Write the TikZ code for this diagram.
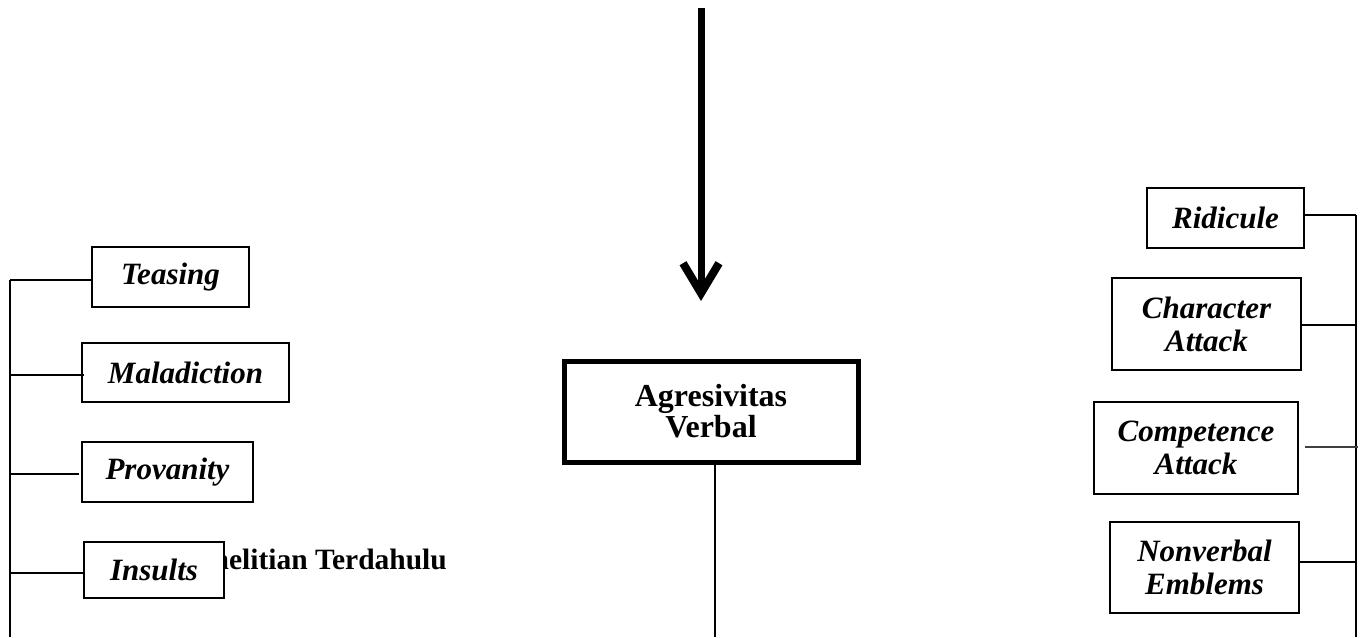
\documentclass[tikz,border=0pt]{standalone}
\usepackage{fontspec}
\setmainfont{Liberation Serif}
\usetikzlibrary{arrows.meta}
\tikzset{
  item/.style={draw=black, line width=1.3pt, fill=white, inner sep=0pt, align=center,
    font=\fontsize{31}{33}\selectfont\bfseries\itshape},
  conn/.style={draw=black, line width=2.2pt},
  trunk/.style={draw=black, line width=2.8pt},
  mainbox/.style={draw=black, line width=5pt, fill=white, inner sep=0pt, align=center,
    font=\fontsize{32}{31}\selectfont\bfseries},
  bigarrow/.style={draw=black, line width=7pt, -{Straight Barb[length=30pt, width=36pt, line width=8pt]}},
}
\begin{document}
\begin{tikzpicture}[x=1pt, y=-1pt]
\useasboundingbox (0,0) rectangle (1362,637);
% central
\node[mainbox, minimum width=294pt, minimum height=101pt] (cb) at (711,411.5) {Agresivitas\\Verbal};
\coordinate (atop) at (701,8);
\coordinate (atip) at (701,301);
\draw[bigarrow] (atop) -- (atip);
\coordinate (cbend) at (715,637);
\draw[line width=1.6pt] (cbend |- cb.south) -- (cbend);
% hidden text
\node[anchor=base east, inner sep=0pt, font=\fontsize{29.5}{32}\selectfont\bfseries] (pt) at (447,569) {Penelitian Terdahulu};
% left boxes
\node[item, minimum width=157pt, minimum height=60pt] (teas) at (170.5,277) {Teasing};
\node[item, minimum width=207pt, minimum height=59pt] (mal) at (185.5,372.5) {Maladiction};
\node[item, minimum width=171pt, minimum height=60pt] (prov) at (167.5,472) {Provanity};
\node[item, minimum width=140pt, minimum height=56pt] (ins) at (154,570) {Insults};
\coordinate (ltop) at (10,280);
\coordinate (lbot) at (10,637);
\draw[trunk] (ltop) -- (lbot);
\draw[conn] (ltop) -- (teas.west |- ltop);
\draw[conn] (10,375) -- ([xshift=3pt]mal.west |- 0,375);
\draw[conn] (10,474) -- ([xshift=-2pt]prov.west |- 0,474);
\draw[conn] (10,573) -- (ins.west |- 0,573);
% right boxes
\node[item, minimum width=157pt, minimum height=60pt] (rid) at (1225.5,218) {Ridicule};
\node[item, minimum width=189pt, minimum height=92pt] (cha) at (1206.5,324) {Character\\Attack};
\node[item, minimum width=204pt, minimum height=92pt] (com) at (1196,448) {Competence\\Attack};
\node[item, minimum width=189pt, minimum height=91pt] (non) at (1204.5,567.5) {Nonverbal\\Emblems};
\coordinate (rtop) at (1356,215);
\coordinate (rbot) at (1356,637);
\draw[trunk] (rtop) -- (rbot);
\draw[conn] ([xshift=-2pt]rid.east |- rtop) -- (rtop);
\draw[conn] (cha.east |- 0,325) -- (1356,325);
\draw[line width=1.6pt, draw=black!75] ([xshift=6pt]com.east |- 0,447) -- (1358,447);
\draw[conn] (non.east |- 0,562) -- (1356,562);
\end{tikzpicture}
\end{document}
